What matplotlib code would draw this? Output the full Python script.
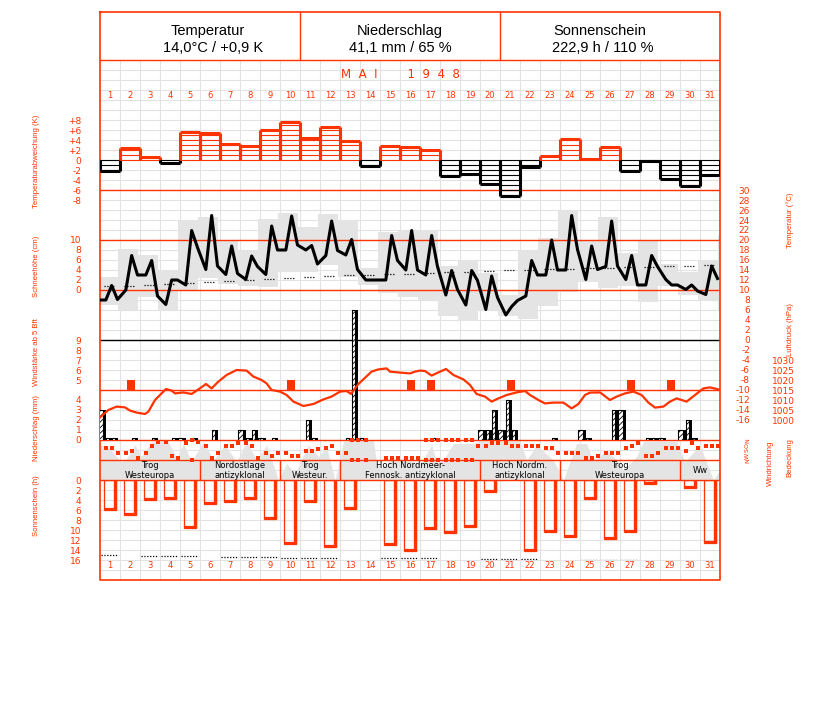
import numpy as np
import matplotlib.pyplot as plt

RED = '#ff3300'
GRID = '#e2e2e2'
FILL = '#e4e4e4'
W, H = 827, 702
LEFT, RIGHT = 100, 720

plt.rcParams['font.family'] = ['DejaVu Sans']
plt.rcParams['hatch.linewidth'] = 0.6
NARROW = ['Liberation Sans', 'DejaVu Sans']

days = np.arange(1, 32)
obs_hours = [7, 14, 21]

# daily temperature anomaly (K)
anomaly_k = [-2.1, 2.5, 0.6, -0.5, 5.7, 5.5, 3.3, 2.9, 6.1, 7.7, 4.5, 6.7, 3.9, -1.1, 2.9, 2.7,
             2.1, -3.1, -2.8, -4.7, -7.3, -1.3, 0.9, 4.2, 0.3, 2.6, -2.1, -0.1, -3.7, -5.1, -2.9]

# air temperature at the 7, 14 and 21 h observations (deg C)
temp_prev = 8.0
temp_7h = [8.0, 10.0, 13.0, 7.1, 11.0, 14.1, 13.1, 12.1, 13.1, 18.0, 18.0, 16.9, 17.0, 12.0, 12.0, 14.0,
           13.0, 9.0, 7.0, 6.1, 5.0, 8.8, 13.0, 14.0, 12.1, 14.7, 12.1, 11.0, 12.1, 10.1, 9.1]
temp_14h = [10.9, 16.9, 15.9, 12.0, 21.9, 24.9, 18.8, 16.8, 22.8, 24.8, 18.9, 23.8, 20.1, 12.0, 20.9, 21.9,
            20.9, 13.9, 13.9, 12.8, 6.7, 15.9, 20.0, 24.9, 18.8, 23.8, 16.9, 16.9, 11.0, 11.0, 14.8]
temp_21h = [8.1, 13.0, 8.8, 12.0, 18.5, 14.8, 13.3, 14.7, 18.0, 19.0, 15.2, 17.9, 14.1, 12.0, 15.9, 14.0,
            14.7, 10.1, 11.9, 8.5, 7.9, 13.0, 14.0, 18.1, 14.1, 14.8, 11.0, 14.7, 11.0, 9.8, 12.3]

# range boxes (21 h to 21 h)
box_top = [12.5, 18.1, 17.0, 14.0, 23.9, 24.5, 19.9, 17.7, 24.1, 25.3, 22.5, 25.2, 23.9, 14.3, 21.5, 21.8,
           22.0, 14.8, 16.0, 13.3, 9.0, 17.9, 20.3, 25.9, 19.7, 24.5, 17.3, 19.7, 15.2, 13.5, 16.0, 21.0]
box_bot = [7.0, 5.9, 8.5, 5.9, 10.0, 12.3, 11.2, 10.8, 10.5, 13.5, 13.5, 15.0, 12.5, 11.0, 9.3, 8.5,
           8.0, 4.8, 3.7, 5.9, 4.7, 4.2, 6.8, 9.5, 11.5, 10.3, 10.7, 7.5, 10.7, 9.0, 7.8, 5.7]

temp_normal = [10.7, 10.8, 11.0, 11.1, 11.3, 11.5, 11.8, 12.0, 12.1, 12.3, 12.5, 12.7, 12.9, 13.0, 13.1, 13.2,
               13.3, 13.5, 13.6, 13.8, 13.9, 14.0, 14.1, 14.2, 14.3, 14.4, 14.5, 14.6, 14.7, 14.8, 14.9]

# air pressure (hPa), time in days since 1 May 0 h
pres_time = [0.00, 0.42, 0.83, 1.25, 1.50, 1.83, 2.25, 2.42, 2.75, 3.08,
             3.30, 3.58, 3.75, 4.17, 4.58, 4.92, 5.30, 5.58, 5.92, 6.33,
             6.83, 7.33, 7.67, 8.08, 8.33, 8.58, 9.00, 9.33, 9.67, 10.17,
             10.67, 11.17, 11.58, 12.00, 12.33, 12.55, 12.92, 13.58, 13.92, 14.33,
             14.50, 15.00, 15.50, 15.75, 16.00, 16.25, 16.58, 16.92, 17.30, 17.67,
             18.17, 18.50, 18.83, 19.25, 19.58, 19.92, 20.33, 20.83, 21.25, 21.50,
             21.92, 22.25, 22.67, 23.17, 23.58, 23.92, 24.25, 24.50, 25.00, 25.50,
             25.83, 26.25, 26.67, 27.08, 27.42, 27.75, 28.17, 28.50, 28.83, 29.33,
             29.75, 30.17, 30.50, 30.92, 31.00]
pres_hpa = [1001.3, 1005.0, 1006.7, 1006.3, 1004.7, 1003.7, 1003.0, 1004.2, 1010.0, 1013.3,
            1015.5, 1014.7, 1013.3, 1013.8, 1013.0, 1015.3, 1018.0, 1015.8, 1019.2, 1022.5,
            1025.0, 1024.7, 1021.7, 1020.0, 1018.3, 1015.0, 1014.2, 1012.5, 1009.2, 1007.0,
            1008.0, 1010.3, 1011.7, 1014.2, 1014.5, 1013.0, 1018.0, 1024.2, 1025.3, 1025.8,
            1024.2, 1023.7, 1023.3, 1024.2, 1024.7, 1024.5, 1022.2, 1023.8, 1025.5, 1022.5,
            1020.3, 1017.5, 1013.0, 1011.7, 1009.2, 1010.8, 1012.5, 1013.8, 1014.5, 1012.5,
            1010.0, 1008.3, 1008.7, 1008.7, 1005.8, 1008.0, 1012.5, 1013.7, 1013.8, 1010.0,
            1011.7, 1013.3, 1014.2, 1012.5, 1008.7, 1006.2, 1006.7, 1009.2, 1010.8, 1009.2,
            1012.5, 1015.8, 1016.3, 1015.3, 1015.0]

# wind force >= 5 Bft
wind_days = [2, 10, 16, 17, 21, 27, 29]
wind_bft = [5, 5, 5, 5, 5, 5, 5]

# precipitation (mm): 21-7 h, 7-14 h, 14-21 h
precip_night = [3.0, 0, 0, 0, 0.2, 0, 0, 1.0, 0.2, 0, 0, 0, 0, 0.2, 0, 0,
                0, 0, 0, 1.0, 1.0, 0, 0, 0, 1.0, 0, 3.0, 0, 0.2, 1.0, 0]
precip_day = [0.2, 0, 0, 0, 0, 0, 0, 0.2, 0, 0, 2.0, 0, 0.2, 0, 0, 0,
              0, 0, 0, 1.0, 4.0, 0, 0, 0, 0.2, 0, 0, 0.2, 0, 2.0, 0]
precip_eve = [0.2, 0.2, 0.2, 0.2, 0.2, 1.0, 0, 1.0, 0.2, 0, 0.2, 0, 13.0, 0, 0, 0,
              0.2, 0, 0, 3.0, 1.0, 0, 0.2, 0, 0, 3.0, 0, 0.2, 0, 0.2, 0]

# wind direction (deg) at 7, 14, 21 h, None = calm
wdir_7h = [138, 228, 228, 30, 60, 108, 108, 48, 228, 228, 198, 138, 228, 0, 318, 318,
           0, 0, 0, 108, 48, 108, 138, 228, 318, 228, 138, 288, 138, 198, 108]
wdir_14h = [138, 192, 108, 288, 0, 318, 108, 108, 288, 288, 198, 108, 0, None, 318, 318,
            0, 0, 0, 48, 108, 108, 138, 228, 318, 228, 108, 288, 138, 48, 108]
wdir_21h = [228, 318, 30, 318, 30, 228, 48, 318, 228, 288, 168, 228, 0, None, 318, 318,
            0, 0, 108, 48, 108, 108, 228, 228, 288, 228, 48, 228, 138, 138, 108]

# cloud cover (okta), time in days since 1 May 0 h
cloud_time = [0.00, 0.42, 0.75, 1.08, 1.33, 1.75, 2.08, 2.50, 2.92, 3.42,
              3.83, 4.17, 4.58, 5.17, 5.67, 6.25, 6.83, 7.33, 7.83, 8.33,
              8.92, 9.33, 9.75, 10.42, 10.92, 11.33, 11.75, 12.17, 12.58, 13.67,
              13.83, 14.08, 14.50, 15.50, 16.00, 16.33, 16.58, 16.83, 17.17, 17.67,
              18.67, 19.00, 21.00, 21.33, 21.83, 22.67, 23.17, 23.83, 24.33, 24.67,
              25.33, 25.83, 26.17, 26.83, 27.17, 28.83, 29.25, 30.00, 30.67, 31.00]
cloud_okta = [7.0, 6.7, 5.0, 3.7, 4.3, 7.0, 4.7, 7.3, 7.9, 7.7,
              4.3, 7.3, 3.7, 7.7, 4.0, 7.0, 3.7, 7.7, 4.0, 7.0,
              0.0, 3.3, 1.3, 7.0, 4.7, 6.7, 0.0, 7.7, 7.9, 7.9,
              3.3, 2.5, 3.8, 3.8, 3.3, 5.3, 7.0, 3.7, 4.0, 7.3,
              7.3, 7.8, 7.8, 4.0, 7.0, 4.0, 0.0, 7.3, 7.3, 3.7,
              6.0, 4.0, 2.0, 4.7, 7.7, 7.7, 3.7, 7.0, 0.0, 2.0]

# sunshine duration (h) and astronomically possible duration
sun_h = [6.0, 7.0, 4.0, 3.8, 9.6, 4.8, 4.4, 3.8, 7.8, 12.8, 4.4, 13.4, 5.8, 0.0, 13.0, 14.1,
         9.8, 10.6, 9.4, 2.4, 0.0, 14.2, 10.4, 11.4, 3.8, 11.8, 10.4, 0.8, 0.0, 1.6, 12.6]
sun_possible = [14.9, np.nan, 15.1, 15.1, 15.1, np.nan, 15.3, 15.3, 15.3, 15.5, 15.5, 15.5, np.nan, np.nan,
                15.6, 15.6, 15.6, np.nan, np.nan, 15.8, 15.8, 15.8, np.nan, np.nan, 16.0, 16.0, 16.0,
                np.nan, np.nan, 16.2, 16.2]

# weather types
wt_start = [0, 5, 9, 12, 19, 23, 29]
wt_end = [5, 9, 12, 19, 23, 29, 31]
wt_label = ['Trog\nWesteuropa', 'Nordostlage\nantizyklonal', 'Trog\nWesteur.',
            'Hoch Nordmeer-\nFennosk. antizyklonal', 'Hoch Nordm.\nantizyklonal',
            'Trog\nWesteuropa', 'Ww']

header_title = ['Temperatur', 'Niederschlag', 'Sonnenschein']
header_value = ['14,0°C / +0,9 K', '41,1 mm / 65 %', '222,9 h / 110 %']
header_title_x = [5.4, 15.0, 25.0]
header_value_x = [5.65, 15.0, 25.15]

fig = plt.figure(figsize=(W / 100, H / 100), dpi=100)


def panel(top, bottom, v_top, v_bottom, z):
    ax = fig.add_axes([LEFT / W, 1 - bottom / H, (RIGHT - LEFT) / W, (bottom - top) / H])
    ax.set_xlim(0, 31)
    ax.set_ylim(v_bottom, v_top)
    ax.patch.set_visible(False)
    for s in ax.spines.values():
        s.set_visible(False)
    ax.set_xticks([])
    ax.set_yticks([])
    ax.set_zorder(z)
    return ax


def left_ticks(ax, vals, labels):
    ax.set_yticks(vals, labels)
    ax.tick_params(axis='y', length=0, pad=13.5, labelsize=6.5, labelcolor=RED)


def right_ticks(ax, vals, labels, pad):
    ax.yaxis.tick_right()
    ax.set_yticks(vals, labels)
    ax.tick_params(axis='y', length=0, pad=pad, labelsize=6.5, labelcolor=RED)
    for lab in ax.get_yticklabels():
        lab.set_horizontalalignment('right')


def ftext(x, y, s, **kw):
    fig.text(x / W, 1 - y / H, s, **kw)


# background grid (pixel units)
ax_bg = panel(12, 580, 12, 580, 0)
ax_bg.hlines(np.arange(70, 581, 10), 0, 31, color=GRID, lw=0.8)
ax_bg.vlines(np.arange(1, 31), 60, 580, color=GRID, lw=0.8)
for d in days:
    ax_bg.text(d - 0.5, 95, str(d), ha='center', va='center', fontsize=6, color=RED)
    ax_bg.text(d - 0.5, 566, str(d), ha='center', va='center', fontsize=6, color=RED)
ax_bg.text(15, 74, 'M  A  I        1  9  4  8', ha='center', va='center', fontsize=8.5, color=RED)

# separator lines and frame
ax_ln = panel(12, 580, 12, 580, 2)
ax_ln.hlines([60, 190, 240, 290, 390, 440, 460, 480], 0, 31, color=RED, lw=1)
ax_ln.hlines(340, 0, 31, color='black', lw=1)
ax_ln.plot([0, 31, 31, 0, 0], [12, 12, 580, 580, 12], color=RED, lw=1.2, clip_on=False)
ax_ln.vlines([10, 20], 12, 60, color=RED, lw=1)
ax_ln.vlines(wt_start[1:], 460, 480, color=RED, lw=1)
for s, e, lab in zip(wt_start, wt_end, wt_label):
    ax_ln.text((s + e) / 2, 470.5, lab, ha='center', va='center', fontsize=6,
               linespacing=1.05, color='black')
for i in range(3):
    ax_ln.text(header_title_x[i], 31, header_title[i], ha='center', va='center', fontsize=10.5,
               family=['Liberation Sans', 'DejaVu Sans'])
    ax_ln.text(header_value_x[i], 48, header_value[i], ha='center', va='center', fontsize=10.5,
               family=['Liberation Sans', 'DejaVu Sans'])

# temperature anomaly
ax_an = panel(100, 200, 12, -8, 3)
for d, v in zip(days, anomaly_k):
    c = RED if v > 0 else 'black'
    n = int(abs(v))
    ax_an.hlines(np.sign(v) * np.arange(0, n + 1), d - 1, d, color=c, lw=0.8)
    ax_an.hlines(v, d - 1, d, color=c, lw=2.2)
    ax_an.vlines([d - 1, d], 0, v, color=c, lw=2.2)
left_ticks(ax_an, [8, 6, 4, 2, 0, -2, -4, -6, -8],
           ['+8', '+6', '+4', '+2', '0', '-2', '-4', '-6', '-8'])

# temperature
ax_tg = panel(190, 440, 30, -20, 1)
box_edges = np.concatenate([[0], days - 1 + 21 / 24, [31]])
ax_tg.bar(box_edges[:-1], np.array(box_top) - np.array(box_bot), width=np.diff(box_edges),
          bottom=box_bot, align='edge', color=FILL, lw=0)

ax_t = panel(190, 440, 30, -20, 3)
t_time = [-3 / 24]
t_val = [temp_prev]
for i in range(31):
    for h, arr in zip(obs_hours, [temp_7h, temp_14h, temp_21h]):
        t_time.append(i + h / 24)
        t_val.append(arr[i])
ax_t.plot(t_time, t_val, color='black', lw=2.2)
ax_t.hlines(temp_normal, days - 0.8, days - 0.3, colors='black', linestyles=(0, (1, 1.3)), lw=0.9)
right_ticks(ax_t, np.arange(30, -17, -2), [str(v) for v in range(30, -17, -2)], 21.6)

# snow depth scale
ax_sn = panel(240, 290, 10, 0, 3)
left_ticks(ax_sn, [10, 8, 6, 4, 2, 0], ['10', '8', '6', '4', '2', '0'])

# wind force
ax_w = panel(340, 390, 9, 4, 3)
ax_w.bar(np.array(wind_days) - 1 + 0.55, np.array(wind_bft) - 4, bottom=4, width=0.37, color=RED)
left_ticks(ax_w, [9, 8, 7, 6, 5], ['9', '8', '7', '6', '5'])

# precipitation
ax_pr = panel(300, 440, 14, 0, 5)
slot_start = [-3, 7, 14]
slot_end = [7, 14, 21]
for k, arr in enumerate([precip_night, precip_day, precip_eve]):
    v = np.array(arr)
    m = v > 0
    x0 = days[m] - 1 + slot_start[k] / 24
    wd = (slot_end[k] - slot_start[k]) / 24
    ax_pr.bar(x0, v[m], width=wd, align='edge', color='black', lw=0)
    ax_pr.bar(x0, v[m], width=wd - 0.13, align='edge', facecolor='white', edgecolor='black',
              hatch='//////', lw=0.8)
left_ticks(ax_pr, [4, 3, 2, 1, 0], ['4', '3', '2', '1', '0'])

# pressure
ax_p = panel(340, 440, 1040, 990, 6)
ax_p.plot(pres_time, pres_hpa, color=RED, lw=1.6)
right_ticks(ax_p, [1030, 1025, 1020, 1015, 1010, 1005, 1000],
            ['1030', '1025', '1020', '1015', '1010', '1005', '1000'], 54)

# cloud cover
ax_cl = panel(440, 480, 8, 0, 1)
ax_cl.fill_between(cloud_time, 0, cloud_okta, color=FILL, lw=0)

# wind direction
ax_wd = panel(440, 460, 0, 360, 5)
for h, arr in zip(obs_hours, [wdir_7h, wdir_14h, wdir_21h]):
    for i, v in enumerate(arr):
        if v is None:
            continue
        ys = [0, 360] if v == 0 else [v]
        ax_wd.plot([i + h / 24] * len(ys), ys, ls='none', marker='s', ms=2.2, mew=0, color=RED,
                   clip_on=False)
ax_wd.yaxis.tick_right()
ax_wd.set_yticks([0, 90, 180, 270, 360], ['N', 'O', 'S', 'W', 'N'])
ax_wd.tick_params(axis='y', length=0, pad=18, labelsize=4.5, labelcolor=RED, labelrotation=90)

# sunshine
ax_s = panel(480, 560, 0, 16, 3)
sun = np.array(sun_h)
m = sun > 0
x0 = days[m] - 1 + 0.2
ax_s.bar(x0, sun[m], width=0.6, align='edge', facecolor='none', edgecolor=RED, lw=0.9)
ax_s.vlines(x0 + 0.56, 0, sun[m], color=RED, lw=2.4)
ax_s.hlines(sun[m] - 0.15, x0, x0 + 0.6, color=RED, lw=1.6)
ax_s.hlines(sun_possible, days - 0.95, days - 0.1, colors='black', linestyles=(0, (1, 1.3)), lw=0.9)
left_ticks(ax_s, np.arange(0, 17, 2), [str(v) for v in range(0, 17, 2)])

# axis titles
kw = dict(rotation=90, ha='center', va='center', color=RED, fontsize=5.6, family=NARROW)
ftext(37, 161, 'Temperaturabweichung (K)', **kw)
ftext(37, 266, 'Schneehöhe (cm)', **kw)
ftext(37, 352, 'Windstärke ab 5 Bft', **kw)
ftext(37, 428, 'Niederschlag (mm)', **kw)
ftext(37, 506, 'Sonnenschein (h)', **kw)
ftext(790, 220, 'Temperatur (°C)', **kw)
ftext(790, 330, 'Luftdruck (hPa)', **kw)
ftext(770, 463, 'Windrichtung', **kw)
ftext(790, 458, 'Bedeckung', **kw)

fig.savefig('out.png', dpi=100)
